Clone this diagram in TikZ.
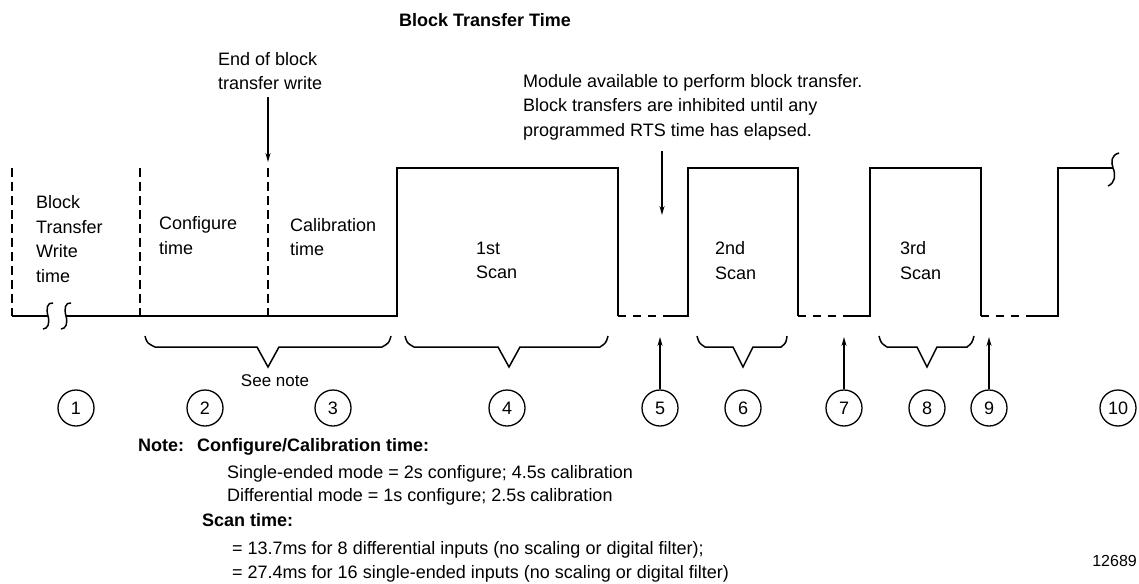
\documentclass[tikz,border=0pt]{standalone}
\usepackage{fontspec}
\setmainfont{Liberation Sans}
\usetikzlibrary{arrows.meta}
\tikzset{
  wave/.style={line width=1.5pt},
  gapline/.style={line width=1.5pt, dash pattern=on 8pt off 7pt},
  marker/.style={line width=1.5pt, dash pattern=on 9pt off 5pt},
  lbl/.style={font=\fontsize{18}{24.5}\selectfont, align=left, anchor=north west, inner sep=0pt},
  txt/.style={font=\fontsize{18}{24.5}\selectfont, anchor=base west, inner sep=0pt},
  num/.style={draw, circle, minimum size=36pt, inner sep=0pt, line width=1.3pt, font=\fontsize{18}{18}\selectfont},
  pointer/.style={line width=1.5pt, -{Stealth[length=9pt,width=5pt]}},
}
\begin{document}
\begin{tikzpicture}[x=1pt,y=-1pt]
  \useasboundingbox (0,0) rectangle (1139,583);
  % title and notes above the wave
  \node[font=\fontsize{18}{18}\selectfont\bfseries, inner sep=0pt] (title) at (485,20) {Block Transfer Time};
  \node[lbl] (endnote) at (218,52) {End of block\\transfer write};
  \node[lbl] (availnote) at (523,74) {Module available to perform block transfer.\\Block transfers are inhibited until any\\programmed RTS time has elapsed.};
  % texts inside the wave
  \node[lbl] (btw) at (36,195.5) {Block\\Transfer\\Write\\time};
  \node[lbl] (cfg) at (159,216.5) {Configure\\time};
  \node[lbl] (cal) at (290,218) {Calibration\\time};
  \node[lbl] (scan1) at (476,241.5) {1st\\Scan};
  \node[lbl] (scan2) at (715,241.5) {2nd\\Scan};
  \node[lbl] (scan3) at (900,241.5) {3rd\\Scan};
  % the wave
  \draw[marker] (12,168) -- (12,316);
  \draw[marker] (140,168) -- (140,316);
  \draw[marker] (268,168) -- (268,316);
  \draw[wave] (12,316) -- (48,316);
  \draw[wave] (66,316) -- (397,316) -- (397,168) -- (618,168) -- (618,316);
  \draw[gapline] (618,316) -- (664,316);
  \draw[wave] (664,316) -- (688,316) -- (688,168) -- (798,168) -- (798,316);
  \draw[gapline] (798,316) -- (846,316);
  \draw[wave] (846,316) -- (870,316) -- (870,168) -- (981,168) -- (981,316);
  \draw[gapline] (981,316) -- (1034,316);
  \draw[wave] (1034,316) -- (1058,316) -- (1058,168) -- (1113,168);
  % break marks
  \draw[wave] (53,303) .. controls (47,302) and (46,309) .. (48,316) .. controls (50,323) and (48,329) .. (43,329);
  \draw[wave] (71,303) .. controls (65,302) and (64,309) .. (66,316) .. controls (68,323) and (66,329) .. (61,329);
  \draw[wave] (1119,153) .. controls (1111,155) and (1111,162) .. (1113,168) .. controls (1116,175) and (1115,183) .. (1108,186);
  % braces
  \draw[wave] (145,336) .. controls (147,343) .. (155,347) -- (257,347) -- (268,367) -- (279,347) -- (382,347) .. controls (389,343) .. (391,336);
  \draw[wave] (405,336) .. controls (407,343) .. (414,347) -- (498,347) -- (509,367) -- (520,347) -- (600,347) .. controls (606,343) .. (608,336);
  \draw[wave] (697,336) .. controls (699,343) .. (705,347) -- (733,347) -- (743,367) -- (753,347) -- (781,347) .. controls (786,343) .. (787,336);
  \draw[wave] (879,336) .. controls (881,343) .. (887,347) -- (917,347) -- (927,367) -- (937,347) -- (967,347) .. controls (972,343) .. (974,336);
  \node[font=\fontsize{17}{17}\selectfont, inner sep=0pt, anchor=base] (seenote) at (275,386.5) {See note};
  % numbered circles
  \draw
    (76,408) node[num] (c1){1}
    (205,408) node[num] (c2){2}
    (333,408) node[num] (c3){3}
    (507,408) node[num] (c4){4}
    (660,408) node[num] (c5){5}
    (743,408) node[num] (c6){6}
    (844,408) node[num] (c7){7}
    (927,408) node[num] (c8){8}
    (989,408) node[num] (c9){9}
    (1118,408) node[num] (c10){10};
  \coordinate (endtip) at (268,162);
  \coordinate (availtip) at (662,215);
  \coordinate (m5) at (660,337);
  \coordinate (m7) at (844,337);
  \coordinate (m9) at (989,337);
  \begin{scope}[pointer]
    \draw ([yshift=-7pt]endnote.south -| endtip) to (endtip);
    \draw ([yshift=-11pt]availnote.south -| availtip) to (availtip);
    \draw (c5.north) to (m5);
    \draw (c7.north) to (m7);
    \draw (c9.north) to (m9);
  \end{scope}
  % note below
  \node[txt, font=\fontsize{18}{18}\selectfont\bfseries] (notehead) at (138,451.5) {Note:};
  \node[txt, font=\fontsize{18}{18}\selectfont\bfseries] (cfghead) at (197,451.5) {Configure/Calibration time:};
  \node[txt] (single) at (227,478.5) {Single-ended mode = 2s configure; 4.5s calibration};
  \node[txt] (diff) at (227,501.5) {Differential mode = 1s configure; 2.5s calibration};
  \node[txt, font=\fontsize{18}{18}\selectfont\bfseries] (scanhead) at (202,526.5) {Scan time:};
  \node[txt] (scan8) at (232,554.5) {= 13.7ms for 8 differential inputs (no scaling or digital filter);};
  \node[txt] (scan16) at (232,578.5) {= 27.4ms for 16 single-ended inputs (no scaling or digital filter)};
  \node[font=\fontsize{16}{16}\selectfont, inner sep=0pt, anchor=base east] (figno) at (1137,566) {12689};
\end{tikzpicture}
\end{document}
